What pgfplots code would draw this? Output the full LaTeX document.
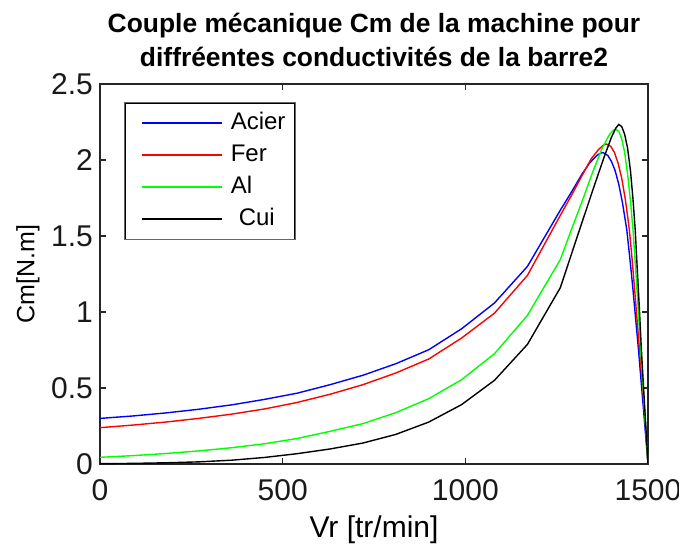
\documentclass[border=0pt]{standalone}
\usepackage{fontspec}
\setmainfont{Liberation Sans}
\usepackage{pgfplots}
\pgfplotsset{compat=1.18}

\definecolor{cAcier}{rgb}{0,0,1}
\definecolor{cFer}{rgb}{1,0,0}
\definecolor{cAl}{rgb}{0,1,0}
\definecolor{cCui}{rgb}{0,0,0}

\begin{document}
\begin{tikzpicture}
% page frame around the axis box (axis box lower left at the origin)
\useasboundingbox (-50pt,-41pt) rectangle (289.5pt,232pt);
\begin{axis}[
  at={(0,0)}, anchor=south west,
  scale only axis, width=274pt, height=190pt,
  xmin=0, xmax=1500, ymin=0, ymax=2.5,
  xtick={0,500,1000,1500},
  ytick={0,0.5,1,1.5,2,2.5},
  /pgf/number format/assume math mode=true,
  /pgf/number format/1000 sep={},
  xtick pos=both, ytick pos=both,
  tick align=inside,
  major tick length=3pt,
  axis line style={black!85, line width=1pt},
  every tick/.style={black!85, line width=0.8pt},
  ticklabel style={font=\fontsize{15}{17}\selectfont, text=black!90},
  xticklabel style={yshift=-4pt},
  xlabel={Vr [tr/min]},
  ylabel={Cm[N.m]},
  xlabel style={at={(rel axis cs:0.5,0)}, anchor=center, yshift=-33pt,
    font=\fontsize{15}{17}\selectfont},
  ylabel style={at={(rel axis cs:-0.1314,0.5)}, anchor=center,
    font=\fontsize{12.5}{15}\selectfont},
  title={Couple mécanique Cm de la machine pour\\diffréentes conductivités de la barre2},
  title style={at={(rel axis cs:0.5,1)}, anchor=center, yshift=16pt,
    align=center, font=\bfseries\fontsize{13.2}{17}\selectfont},
  legend style={name=leg, at={(rel axis cs:0.0456,0.9506)}, anchor=north west,
    fill=white,
    font=\fontsize{12}{14}\selectfont,
    inner xsep=8pt, inner ysep=4pt, row sep=4pt, column sep=4pt,
    nodes={inner sep=0pt, text height=9pt, text depth=3pt, text width=24pt},
    cells={anchor=west}},
  % the sample line takes the plot's own stroke style
  legend image code/.code={
    \path (0pt,0pt) -- (40pt,0pt);
  },
  every axis plot/.append style={line width=0.7pt},
]
% Acier
\addplot[color=cAcier] coordinates {
(0,0.300) (90,0.316) (180,0.336) (270,0.360) (360,0.389) (450,0.425)
(540,0.466) (630,0.522) (720,0.584) (810,0.660) (900,0.752) (990,0.890)
(1080,1.060) (1170,1.300) (1260,1.670) (1290,1.787) (1320,1.910)
(1340,1.980) (1360,2.030) (1370,2.045) (1377,2.049) (1390,2.030)
(1400,1.990) (1410,1.930) (1420,1.840) (1430,1.720) (1442,1.540)
(1450,1.360) (1458,1.170) (1466,0.960) (1474,0.750) (1482,0.520)
(1490,0.290) (1500,0)
};
% Fer
\addplot[color=cFer] coordinates {
(0,0.239) (90,0.256) (180,0.276) (270,0.300) (360,0.328) (450,0.362)
(540,0.405) (630,0.459) (720,0.522) (810,0.599) (900,0.691) (990,0.829)
(1080,0.993) (1170,1.241) (1260,1.636) (1290,1.765) (1320,1.900)
(1345,2.010) (1365,2.070) (1378,2.098) (1386,2.105) (1398,2.090)
(1408,2.050) (1418,1.980) (1428,1.880) (1438,1.740) (1449,1.540)
(1456,1.360) (1463,1.160) (1470,0.950) (1477,0.750) (1484,0.550)
(1492,0.300) (1500,0)
};
% Al
\addplot[color=cAl] coordinates {
(0,0.044) (90,0.055) (180,0.069) (270,0.086) (360,0.107) (450,0.133)
(540,0.168) (630,0.215) (720,0.266) (810,0.338) (900,0.430) (990,0.555)
(1080,0.726) (1170,0.978) (1260,1.345) (1290,1.540) (1320,1.730)
(1350,1.930) (1375,2.080) (1395,2.170) (1405,2.195) (1411,2.202)
(1420,2.190) (1428,2.140) (1436,2.050) (1444,1.910) (1452,1.730)
(1459,1.540) (1466,1.290) (1473,1.030) (1480,0.750) (1490,0.370)
(1500,0)
};
% Cui
\addplot[color=cCui] coordinates {
(0,0.002) (90,0.004) (180,0.008) (270,0.014) (360,0.025) (450,0.043)
(540,0.068) (630,0.099) (720,0.138) (810,0.195) (900,0.276) (990,0.391)
(1080,0.551) (1170,0.787) (1260,1.160) (1300,1.450) (1350,1.810)
(1380,2.020) (1400,2.150) (1412,2.210) (1420,2.234) (1428,2.220)
(1436,2.170) (1444,2.080) (1452,1.930) (1459,1.740) (1465,1.540)
(1470,1.310) (1476,1.040) (1482,0.750) (1491,0.370) (1500,0)
};
\legend{Acier, Fer, Al, {\ Cui}}
\end{axis}
% legend frame
\draw[black!60, line width=0.5pt] (leg.south west) rectangle (leg.north east);
\end{tikzpicture}
\end{document}
